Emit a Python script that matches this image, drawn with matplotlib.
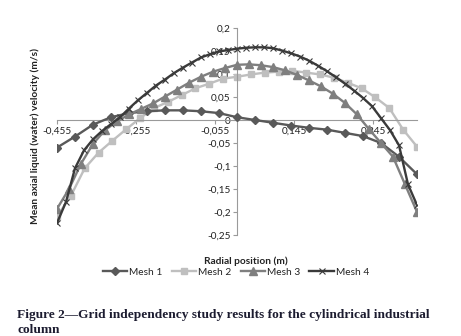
import numpy as np
import matplotlib
matplotlib.use("Agg")
import matplotlib.pyplot as plt

# radial positions for each mesh (m)
x_mesh1 = np.linspace(-0.455, 0.455, 21)
x_mesh2 = np.linspace(-0.455, 0.455, 27)
x_mesh3 = np.linspace(-0.455, 0.455, 31)
x_mesh4 = np.linspace(-0.455, 0.455, 41)

# mean axial liquid velocity (m/s)
v_mesh1 = [-0.060, -0.036, -0.010, 0.006, 0.015, 0.019, 0.021, 0.021, 0.019, 0.015,
           0.006, 0.000, -0.006, -0.012, -0.017, -0.021, -0.028, -0.035, -0.050, -0.080,
           -0.118]
v_mesh2 = [-0.210, -0.165, -0.105, -0.071, -0.045, -0.020, 0.004, 0.026, 0.039, 0.054,
           0.069, 0.079, 0.090, 0.094, 0.099, 0.103, 0.105, 0.107, 0.103, 0.099,
           0.092, 0.081, 0.069, 0.049, 0.026, -0.021, -0.058]
v_mesh3 = [-0.193, -0.150, -0.095, -0.052, -0.022, -0.003, 0.012, 0.024, 0.036, 0.051,
           0.066, 0.081, 0.094, 0.105, 0.113, 0.120, 0.121, 0.119, 0.115, 0.108,
           0.098, 0.086, 0.073, 0.057, 0.037, 0.012, -0.020, -0.050, -0.080, -0.140,
           -0.200]
v_mesh4 = [-0.224, -0.178, -0.105, -0.066, -0.042, -0.024, -0.009, 0.006, 0.025, 0.043,
           0.059, 0.075, 0.088, 0.102, 0.114, 0.125, 0.136, 0.143, 0.149, 0.152,
           0.155, 0.157, 0.158, 0.158, 0.156, 0.151, 0.145, 0.138, 0.129, 0.118,
           0.106, 0.093, 0.079, 0.064, 0.048, 0.030, 0.004, -0.022, -0.055, -0.140,
           -0.185]

xticks = [-0.455, -0.255, -0.055, 0.145, 0.345]
xtick_labels = ["-0,455", "-0,255", "-0,055", "0,145", "0,345"]
yticks = [-0.25, -0.2, -0.15, -0.1, -0.05, 0, 0.05, 0.1, 0.15, 0.2]
ytick_labels = ["-0,25", "-0,2", "-0,15", "-0,1", "-0,05", "0", "0,05", "0,1", "0,15", "0,2"]

plt.rcParams['font.family'] = ['Lato', 'DejaVu Sans']

fig = plt.figure(figsize=(4.61, 3.36), dpi=100)
ax = fig.add_axes([57/461, 1-235/336, 360/461, 207/336])

ax.plot(x_mesh1, v_mesh1, color='#595959', lw=1.7, marker='D', ms=4, label='Mesh 1', zorder=3)
ax.plot(x_mesh2, v_mesh2, color='#bfbfbf', lw=1.7, marker='s', ms=5, label='Mesh 2', zorder=2)
ax.plot(x_mesh3, v_mesh3, color='#7f7f7f', lw=1.7, marker='^', ms=5.5, label='Mesh 3', zorder=3)
ax.plot(x_mesh4, v_mesh4, color='#3a3a3a', lw=1.7, marker='x', ms=4, mew=0.8, label='Mesh 4', zorder=4)

ax.set_xlim(-0.455, 0.455)
ax.set_ylim(-0.25, 0.2)
ax.set_xticks(xticks)
ax.set_xticklabels(xtick_labels)
ax.set_yticks(yticks)
ax.set_yticklabels(ytick_labels)

for s in ['top', 'right']:
    ax.spines[s].set_visible(False)
ax.spines['left'].set_position(('data', 0))
ax.spines['bottom'].set_position(('data', 0))
for s in ['left', 'bottom']:
    ax.spines[s].set_color('#9a9a9a')
    ax.spines[s].set_linewidth(0.8)
ax.tick_params(axis='both', labelsize=7.2, color='#9a9a9a', length=3, width=0.8,
               labelcolor='#222222', pad=1.5)

fig.text(35/461, 1-136/336, 'Mean axial liquid (water) velocity (m/s)', rotation=90,
         ha='center', va='center', fontsize=7.3, fontweight='bold', color='#222222')
fig.text(246/461, 1-261/336, 'Radial position (m)', ha='center', va='center',
         fontsize=7.3, fontweight='bold', color='#222222')

handles, labels = ax.get_legend_handles_labels()
fig.legend(handles, labels, loc='center', bbox_to_anchor=(236/461, 1-272/336), ncol=4,
           frameon=False, fontsize=7.3, handlelength=2.4, handletextpad=0.2,
           columnspacing=0.9, borderpad=0, labelcolor='#222222')

fig.text(17/461, 1-315/336, 'Figure 2\u2014Grid independency study results for the cylindrical industrial',
         ha='left', va='center', fontsize=9.6, family='Liberation Serif', fontweight='bold',
         color='#1c1c30')
fig.text(17/461, 1-330/336, 'column', ha='left', va='center', fontsize=9.6,
         family='Liberation Serif', fontweight='bold', color='#1c1c30')

fig.savefig('out.png', dpi=100)
